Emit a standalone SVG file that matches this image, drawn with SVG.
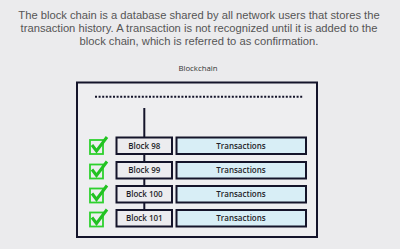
<svg xmlns="http://www.w3.org/2000/svg" width="400" height="249" viewBox="0 0 400 249">
<defs>
<style>
.cap{font-family:"Liberation Sans","Noto Sans",sans-serif;font-size:11.2px;fill:#555;text-anchor:middle}
.lbl{font-family:"Open Sans","Noto Sans",sans-serif;font-size:8px;fill:#1e1e28;text-anchor:middle;font-weight:600}
.blk{fill:#ececef;stroke:#14142a;stroke-width:2}
.tx{fill:#d8eef6;stroke:#14142a;stroke-width:2}
.chkbox{fill:none;stroke:#2ed12e;stroke-width:1.8}
.chk{fill:none;stroke:#22c222;stroke-width:3;stroke-linejoin:miter;stroke-linecap:butt}
</style>
<g id="check">
<rect class="chkbox" x="0" y="3" width="13" height="14"/>
<polyline class="chk" points="2,8 6.5,14 17,0"/>
</g>
</defs>
<rect width="400" height="249" fill="#ebebed"/>
<g id="caption">
<text class="cap" x="199" y="18.5">The block chain is a database shared by all network users that stores the</text>
<text class="cap" x="199" y="31.5">transaction history. A transaction is not recognized until it is added to the</text>
<text class="cap" x="199" y="44.5">block chain, which is referred to as confirmation.</text>
</g>
<text class="lbl" x="198" y="70.5" style="fill:#333;font-size:7.8px;font-weight:500">Blockchain</text>
<g id="container">
<rect x="77" y="82.5" width="240" height="154.5" fill="#eeeef0" stroke="#14142a" stroke-width="2"/>
<line x1="95" y1="96.7" x2="303" y2="96.7" stroke="#14142a" stroke-width="2" stroke-dasharray="2,1.6"/>
</g>
<g id="connectors">
<line x1="144.3" y1="108" x2="144.3" y2="210" stroke="#14142a" stroke-width="2"/>
</g>
<g id="row98">
<use href="#check" x="90" y="137"/>
<rect class="blk" x="116.5" y="137.5" width="55.5" height="16.5"/>
<text class="lbl" x="144.3" y="148.6">Block 98</text>
<rect class="tx" x="176.5" y="137.5" width="129.5" height="16.5"/>
<text class="lbl" x="241" y="148.6">Transactions</text>
</g>
<g id="row99">
<use href="#check" x="90" y="161.5"/>
<rect class="blk" x="116.5" y="162" width="55.5" height="16.5"/>
<text class="lbl" x="144.3" y="173.1">Block 99</text>
<rect class="tx" x="176.5" y="162" width="129.5" height="16.5"/>
<text class="lbl" x="241" y="173.1">Transactions</text>
</g>
<g id="row100">
<use href="#check" x="90" y="185.5"/>
<rect class="blk" x="116.5" y="186" width="55.5" height="16.5"/>
<text class="lbl" x="144.3" y="197.1">Block 100</text>
<rect class="tx" x="176.5" y="186" width="129.5" height="16.5"/>
<text class="lbl" x="241" y="197.1">Transactions</text>
</g>
<g id="row101">
<use href="#check" x="90" y="209.5"/>
<rect class="blk" x="116.5" y="210" width="55.5" height="16.5"/>
<text class="lbl" x="144.3" y="221.1">Block 101</text>
<rect class="tx" x="176.5" y="210" width="129.5" height="16.5"/>
<text class="lbl" x="241" y="221.1">Transactions</text>
</g>
</svg>
